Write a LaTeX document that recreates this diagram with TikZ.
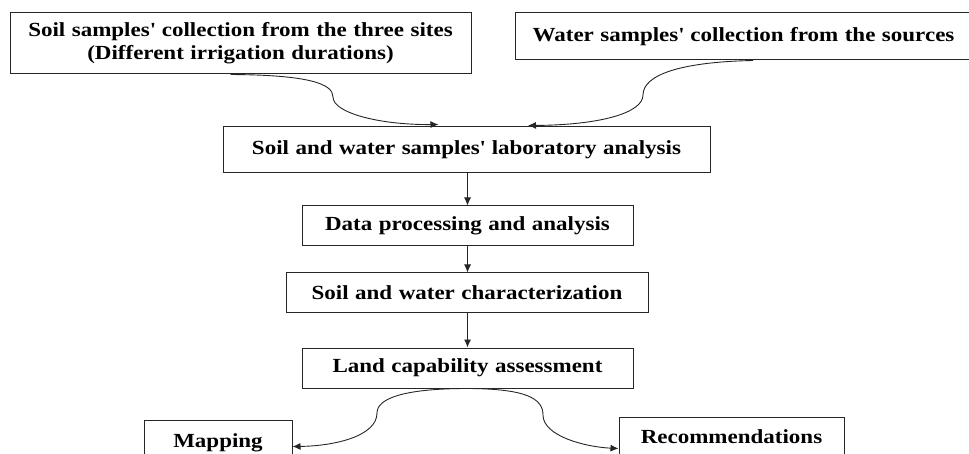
\documentclass[tikz,border=0pt]{standalone}
\usepackage{fontspec}
\setmainfont{Liberation Serif}[FakeStretch=1.15]
\usetikzlibrary{arrows.meta}
\newcommand\boxfnt{\fontsize{20}{23}\selectfont\bfseries\spaceskip=6.5pt plus 1pt\relax}
\begin{document}
\begin{tikzpicture}[x=1pt,y=-1pt,
  box/.style={draw=black!85, line width=1pt, rectangle, inner sep=0pt,
    font=\boxfnt, align=center},
  conn/.style={draw=black!85, line width=0.9pt, -{Latex[length=8pt,width=7pt]}}]
\useasboundingbox (0,0) rectangle (969,454);
\clip (0,0) rectangle (969,454);

\node[box, minimum width=461pt, minimum height=61pt] (b1) at (240.5,43.5)
  {Soil samples\textquotesingle{} collection from the three sites\\(Different irrigation durations)};
\node[box, minimum width=457pt, minimum height=47pt] (b2) at (743.5,36.5)
  {Water samples\textquotesingle{} collection from the sources};
\node[box, minimum width=487pt, minimum height=46pt] (b3) at (466.5,150)
  {Soil and water samples\textquotesingle{} laboratory analysis};
\node[box, minimum width=331pt, minimum height=40pt] (b4) at (467.5,226)
  {Data processing and analysis};
\node[box, minimum width=362pt, minimum height=40pt] (b5) at (467,293)
  {Soil and water characterization};
\node[box, minimum width=331pt, minimum height=40pt] (b6) at (467.5,368)
  {Land capability assessment};
\node[box, minimum width=148pt, text height=27pt, text depth=23pt, anchor=north] (map) at (218,420)
  {Mapping};
\node[box, minimum width=225pt, text height=26pt, text depth=24pt, anchor=north] (rec) at (731.5,417)
  {Recommendations};

% top curves
\draw[conn] ([xshift=-10pt]b1.south) .. controls (310,75) and (333,84) .. (333,97)
  .. controls (333,113) and (380,125) .. ([xshift=-28pt,yshift=2pt]b3.north);
\draw[conn] ([xshift=9.5pt]b2.south) .. controls (680,62) and (643,75) .. (643,95)
  .. controls (643,113) and (600,125) .. ([xshift=61.5pt,yshift=1pt]b3.north);

% vertical arrows
\draw[conn] (b4.north |- b3.south) -- (b4.north);
\draw[conn] (b4.south) -- (b5.north -| b4.south);
\draw[conn] (b5.south -| b6.north) -- (b6.north);

% bottom curves
\draw[conn] ([xshift=-4pt]b6.south) .. controls (405,389) and (377,398) .. (377,413)
  .. controls (377,436) and (335,446) .. ([yshift=-1pt]map.east);
\draw[conn] ([xshift=2pt]b6.south) .. controls (525,389) and (543,398) .. (543,415)
  .. controls (543,436) and (585,447) .. ([yshift=-6pt]rec.west);
\end{tikzpicture}
\end{document}
